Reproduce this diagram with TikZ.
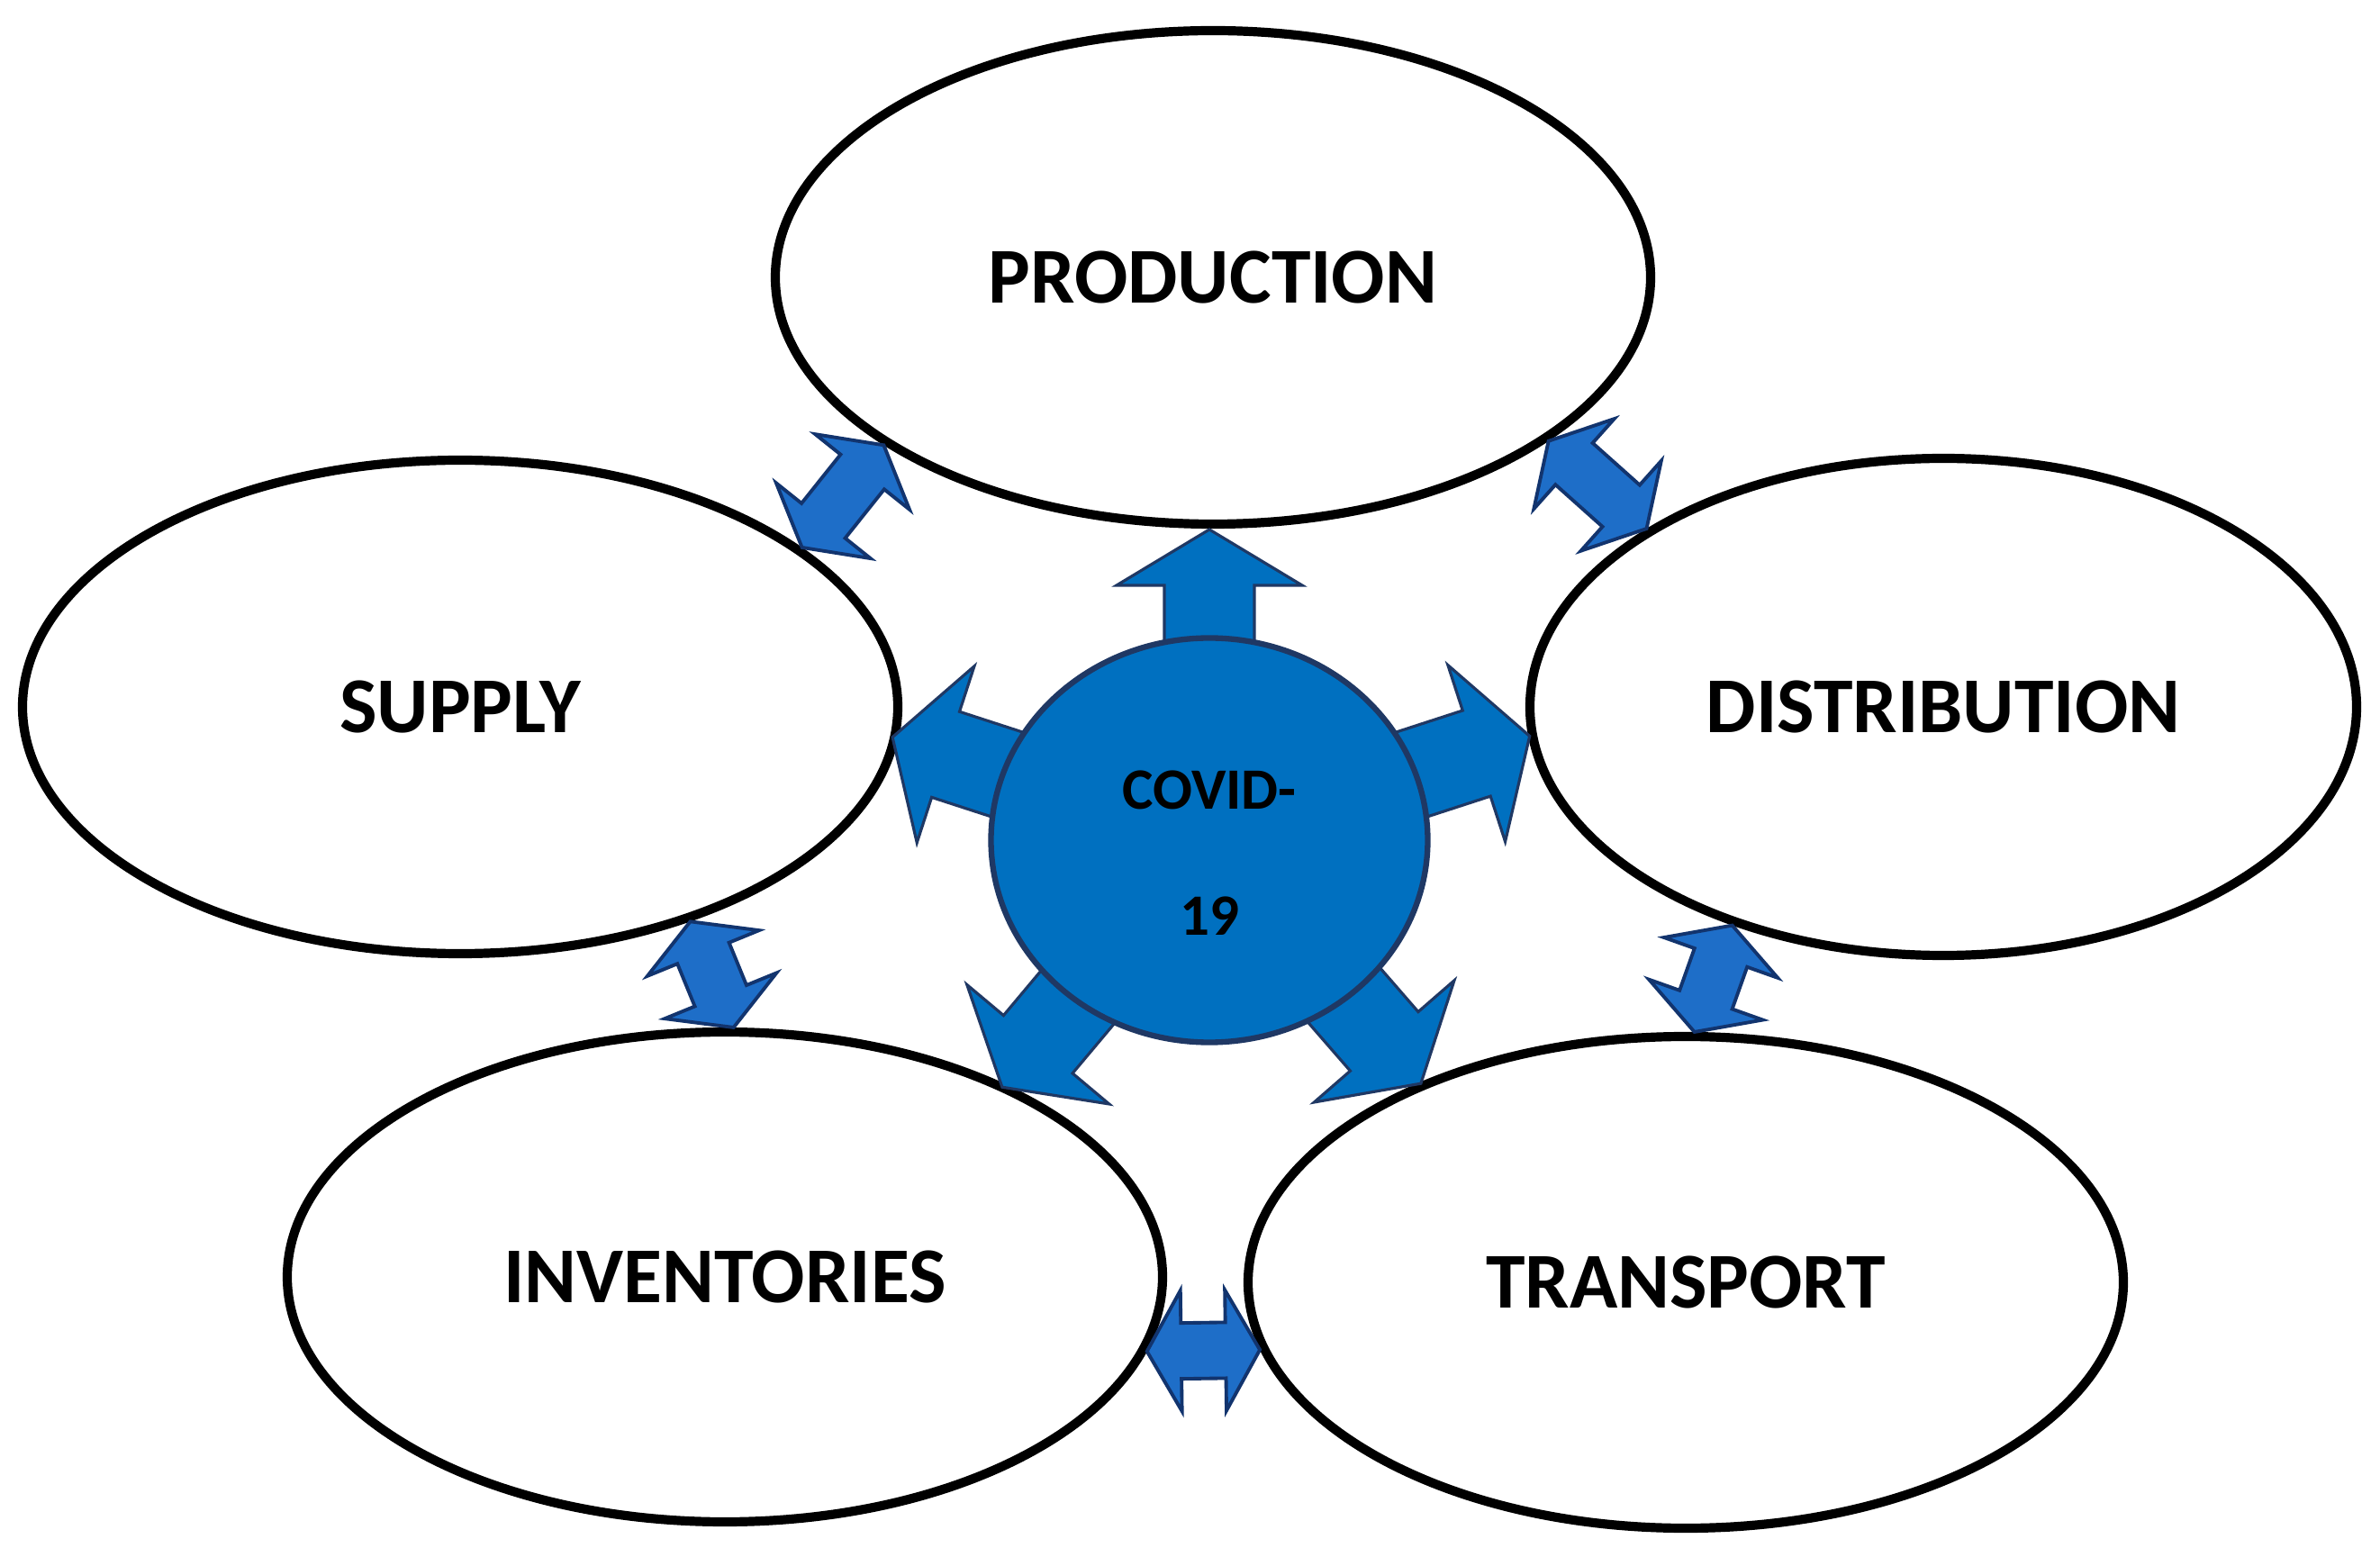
\documentclass[tikz,border=0pt]{standalone}
\usepackage{fontspec}
\setmainfont{Carlito}
\usepackage{tikz}
\usetikzlibrary{shapes.geometric,calc}
\definecolor{virusblue}{RGB}{0,112,192}
\definecolor{virusedge}{RGB}{31,56,100}
\definecolor{linkblue}{RGB}{30,110,200}
\definecolor{linkedge}{RGB}{18,52,110}

% fat two-headed arrow between two border points
\newcommand{\twoway}[2]{%
  \draw[link] (#1)
    -- ($(#1)!0.38cm!(#2)!0.67cm!90:(#2)$)
    -- ($(#1)!0.38cm!(#2)!0.31cm!90:(#2)$)
    -- ($(#2)!0.38cm!(#1)!0.31cm!-90:(#1)$)
    -- ($(#2)!0.38cm!(#1)!0.67cm!-90:(#1)$)
    -- (#2)
    -- ($(#2)!0.38cm!(#1)!0.67cm!90:(#1)$)
    -- ($(#2)!0.38cm!(#1)!0.31cm!90:(#1)$)
    -- ($(#1)!0.38cm!(#2)!0.31cm!-90:(#2)$)
    -- ($(#1)!0.38cm!(#2)!0.67cm!-90:(#2)$)
    -- cycle;}

\begin{document}
\begin{tikzpicture}[
    stage/.style={ellipse, draw, line width=2.9pt, inner sep=0pt,
        minimum width=9.72cm, minimum height=5.48cm,
        font=\fontsize{25}{30}\selectfont\bfseries},
    link/.style={fill=linkblue, draw=linkedge, line width=1.1pt, line join=miter},
    spoke/.style={fill=virusblue, draw=virusedge, line width=0.9pt, line join=miter}
]
    \fill[white] (0,0) rectangle (26.43,17.28);
    \useasboundingbox (0,0) rectangle (26.43,17.28);

    % Stages of the chain
    \node[stage] (prod) at (13.47,14.20) {PRODUCTION};
    \node[stage] (supply) at (5.11,9.43) {SUPPLY};
    \node[stage, minimum width=9.18cm, minimum height=5.52cm] (distr) at (21.58,9.43) {DISTRIBUTION};
    \node[stage, minimum height=5.44cm] (invent) at (8.05,3.10) {INVENTORIES};
    \node[stage, minimum height=5.46cm] (transp) at (18.72,3.04) {TRANSPORT};

    % Outward arrows from the virus
    \coordinate (hub) at (13.43,7.95);
    \foreach \ang/\len in {90/3.45, 18/3.74, 162/3.70, -49/3.58, -130/3.58} {
        \draw[spoke, shift={(hub)}, rotate=\ang]
            (0,-0.50) -- ({\len-0.62},-0.50) -- ({\len-0.62},-1.03) -- (\len,0)
            -- ({\len-0.62},1.03) -- ({\len-0.62},0.50) -- (0,0.50) -- cycle;
    }

    % Virus
    \node[ellipse, fill=virusblue, draw=virusedge, line width=1.8pt, inner sep=0pt,
        minimum width=4.85cm, minimum height=4.49cm,
        label={[yshift=-0.14cm, align=center, font=\fontsize{18.5}{40}\selectfont\bfseries]center:COVID-\\19}]
        (covid) at (hub) {};

    % Links between neighbouring stages
    \twoway{supply.25}{prod.207}
    \twoway{prod.334}{distr.149}
    \twoway{supply.317}{invent.88}
    \twoway{distr.226}{transp.88}
    \twoway{invent.350}{transp.189}
\end{tikzpicture}
\end{document}
